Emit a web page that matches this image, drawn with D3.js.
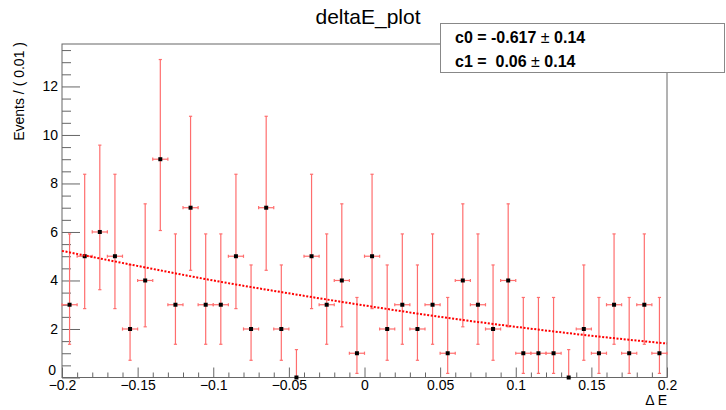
<!DOCTYPE html>
<html>
<head>
<meta charset="utf-8">
<script src="https://cdn.jsdelivr.net/npm/d3@7"></script>
<style>
  html, body { margin: 0; padding: 0; background: #fff; }
  svg { display: block; font-family: "Liberation Sans", Arial, Helvetica, sans-serif; }
</style>
</head>
<body>
<svg id="chart" width="726" height="410"></svg>
<script>
// ---- data ----
const binCenters = [-0.195,-0.185,-0.175,-0.165,-0.155,-0.145,-0.135,-0.125,-0.115,-0.105,
                    -0.095,-0.085,-0.075,-0.065,-0.055,-0.045,-0.035,-0.025,-0.015,-0.005,
                     0.005, 0.015, 0.025, 0.035, 0.045, 0.055, 0.065, 0.075, 0.085, 0.095,
                     0.105, 0.115, 0.125, 0.135, 0.145, 0.155, 0.165, 0.175, 0.185, 0.195];
const counts   = [3,5,6,5,2,4,9,3,7,3, 3,5,2,7,2,0,5,3,4,1, 5,2,3,2,3,1,4,3,2,4, 1,1,1,0,2,1,3,1,3,1];
const errLow   = [1.63,2.16,2.38,2.16,1.29,1.91,2.94,1.63,2.58,1.63,
                  1.63,2.16,1.29,2.58,1.29,0,2.16,1.63,1.91,0.83,
                  2.16,1.29,1.63,1.29,1.63,0.83,1.91,1.63,1.29,1.91,
                  0.83,0.83,0.83,0,1.29,0.83,1.63,0.83,1.63,0.83];
const errHigh  = [2.92,3.38,3.58,3.38,2.64,3.16,4.11,2.92,3.77,2.92,
                  2.92,3.38,2.64,3.77,2.64,1.15,3.38,2.92,3.16,2.30,
                  3.38,2.64,2.92,2.64,2.92,2.30,3.16,2.92,2.64,3.16,
                  2.30,2.30,2.30,1.15,2.64,2.30,2.92,2.30,2.92,2.30];
const binHalfWidth = 0.005;

const fitX = [-0.2,-0.15,-0.1,-0.05,0,0.05,0.1,0.15,0.2];
const fitY = [5.22,4.60,4.00,3.47,2.97,2.50,2.09,1.72,1.40];

const xTicks = [-0.2,-0.15,-0.1,-0.05,0,0.05,0.1,0.15,0.2];
const xTickLabels = ["\u22120.2","\u22120.15","\u22120.1","\u22120.05","0","0.05","0.1","0.15","0.2"];
const yTicks = [0,2,4,6,8,10,12];
const yTickLabels = ["0","2","4","6","8","10","12"];

const title = "deltaE_plot";
const yTitle = "Events / ( 0.01 )";
const xTitle = "\u0394 E";
const statsLines = [["c0 = -0.617", "0.14"], ["c1 =  0.06", "0.14"]];

// ---- layout ----
const W = 726, H = 410;
const frame = {left: 62, right: 667, top: 44, bottom: 377.5};
const svg = d3.select("#chart");

const x = d3.scaleLinear().domain([-0.2, 0.2]).range([frame.left, frame.right]);
const y = d3.scaleLinear().domain([0, 13.75]).range([frame.bottom, frame.top]);

const axisColor = "#666";

// frame
svg.append("rect")
  .attr("x", frame.left).attr("y", frame.top)
  .attr("width", frame.right - frame.left).attr("height", frame.bottom - frame.top)
  .attr("fill", "none").attr("stroke", axisColor).attr("stroke-width", 1);

// minor ticks y
const yMinor = d3.range(0, 13.75, 0.5).filter(v => Math.abs(v % 2) > 1e-9);
const gyMinor = svg.append("g").attr("transform", `translate(${frame.left},0)`)
  .call(d3.axisLeft(y).tickValues(yMinor).tickSize(-9).tickFormat(""));
gyMinor.select(".domain").remove();
gyMinor.selectAll("line").attr("stroke", axisColor);

const gy = svg.append("g").attr("transform", `translate(${frame.left},0)`)
  .call(d3.axisLeft(y).tickValues(yTicks).tickSize(-18).tickPadding(4)
        .tickFormat((d, i) => yTickLabels[i]));
gy.select(".domain").remove();
gy.selectAll("line").attr("stroke", axisColor);
gy.selectAll("text").attr("font-size", 14).attr("fill", "#000")
  .attr("font-family", "Liberation Sans, Arial, sans-serif");
gy.selectAll("text").filter(d => d === 0).attr("dy", "-0.25em").attr("x", -6);

// minor ticks x
const xMinor = d3.range(-20, 21).map(v => v / 100).filter(v => Math.abs(Math.round(v * 100) % 5) !== 0);
const gxMinor = svg.append("g").attr("transform", `translate(0,${frame.bottom})`)
  .call(d3.axisBottom(x).tickValues(xMinor).tickSize(-5).tickFormat(""));
gxMinor.select(".domain").remove();
gxMinor.selectAll("line").attr("stroke", axisColor);

const gx = svg.append("g").attr("transform", `translate(0,${frame.bottom})`)
  .call(d3.axisBottom(x).tickValues(xTicks).tickSize(-10).tickPadding(3)
        .tickFormat((d, i) => xTickLabels[i]));
gx.select(".domain").remove();
gx.selectAll("line").attr("stroke", axisColor);
gx.selectAll("text").attr("font-size", 14).attr("fill", "#000")
  .attr("font-family", "Liberation Sans, Arial, sans-serif");

// data
const errColor = "rgb(255,110,110)";
const data = binCenters.map((c, i) => ({c, n: counts[i], lo: errLow[i], hi: errHigh[i]}));
const gData = svg.append("g");
const cap = 1.6;
data.forEach(d => {
  const cx = x(d.c), cy = y(d.n);
  const yTop = y(d.n + d.hi), yBot = y(d.n - d.lo);
  const g = gData.append("g").attr("stroke", errColor).attr("stroke-width", 1.2).attr("fill", "none");
  g.append("line").attr("x1", cx).attr("x2", cx).attr("y1", yTop).attr("y2", yBot);
  g.append("line").attr("x1", cx - cap).attr("x2", cx + cap).attr("y1", yTop).attr("y2", yTop);
  if (d.lo > 0) g.append("line").attr("x1", cx - cap).attr("x2", cx + cap).attr("y1", yBot).attr("y2", yBot);
  if (d.n > 0) {
    const xl = x(d.c - binHalfWidth), xr = x(d.c + binHalfWidth);
    g.append("line").attr("x1", xl).attr("x2", xr).attr("y1", cy).attr("y2", cy);
    g.append("line").attr("x1", xl).attr("x2", xl).attr("y1", cy - cap).attr("y2", cy + cap);
    g.append("line").attr("x1", xr).attr("x2", xr).attr("y1", cy - cap).attr("y2", cy + cap);
  }
});
gData.selectAll("rect.pt").data(data).enter().append("rect").attr("class", "pt")
  .attr("x", d => x(d.c) - 2).attr("y", d => y(d.n) - 2)
  .attr("width", 4).attr("height", 4).attr("fill", "#000");

// fit curve
const line = d3.line().x((d, i) => x(fitX[i])).y(d => y(d)).curve(d3.curveMonotoneX);
svg.append("path").datum(fitY)
  .attr("d", line).attr("fill", "none").attr("stroke", "#ff0000")
  .attr("stroke-width", 2).attr("stroke-dasharray", "2,1.6");

// title
svg.append("text").attr("x", 368).attr("y", 24).attr("text-anchor", "middle")
  .attr("font-size", 21).attr("fill", "#000").text(title);

// y title
svg.append("text").attr("transform", `translate(24,${frame.top - 2}) rotate(-90)`)
  .attr("text-anchor", "end").attr("font-size", 14).attr("fill", "#000").text(yTitle);

// x title
svg.append("text").attr("x", frame.right).attr("y", 405).attr("text-anchor", "end")
  .attr("font-size", 14).attr("fill", "#000").text(xTitle);

// stats box
svg.append("rect").attr("x", 440.5).attr("y", 23.5).attr("width", 284).attr("height", 49)
  .attr("fill", "#fff").attr("stroke", "#888").attr("stroke-width", 1);
statsLines.forEach((l, i) => {
  const t = svg.append("text").attr("x", 455).attr("y", 43 + i * 24)
    .attr("font-size", 16).attr("font-weight", "bold").attr("fill", "#000")
    .attr("xml:space", "preserve").style("white-space", "pre");
  t.append("tspan").text(l[0] + " ");
  t.append("tspan").attr("font-weight", "normal").text("\u00b1");
  t.append("tspan").text(" " + l[1]);
});
</script>
</body>
</html>
